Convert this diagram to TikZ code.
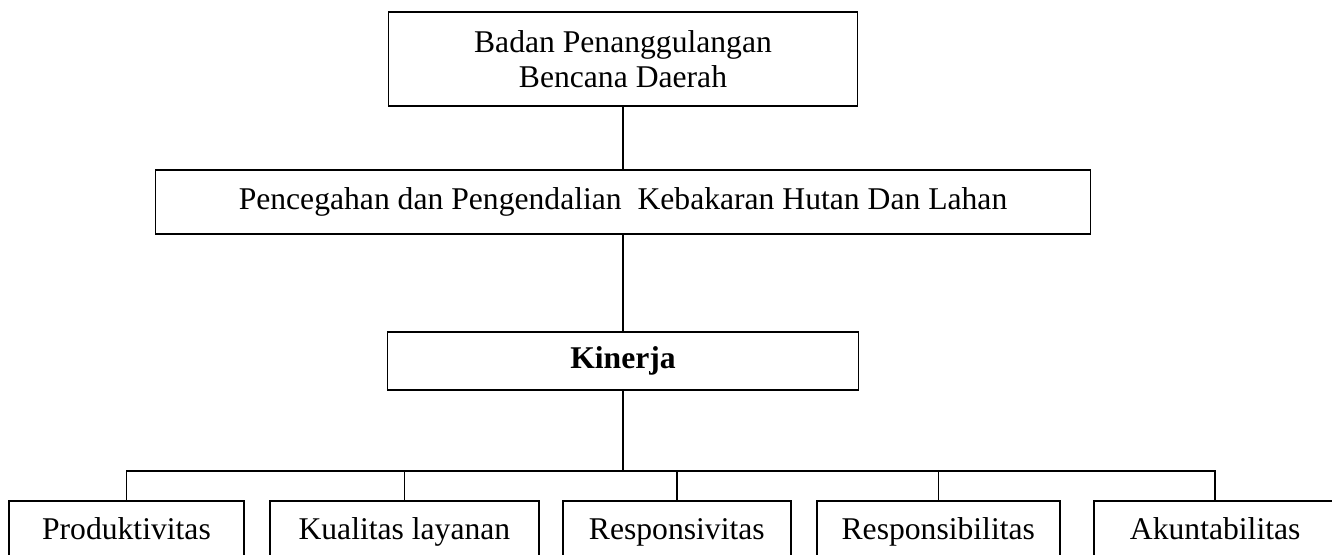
\documentclass[tikz,border=0pt]{standalone}
\usepackage{fontspec}
\setmainfont{Liberation Serif}
\usetikzlibrary{positioning}

\begin{document}
\begin{tikzpicture}[
		every node/.style={font=\fontsize{18}{20}\selectfont},
		box/.style={rectangle, draw=black, line width=1.1pt, inner sep=0pt, align=center},
		leaf/.style={box, minimum height=1.4cm, text height=0.7em, text depth=0.25em},
		link/.style={line width=0.85pt}
	]

	\useasboundingbox (0,0) rectangle (26.64,-11.08);

	% Nodes
	\node[box, minimum width=9.38cm, minimum height=1.88cm] (bpbd) at (12.46,-1.18) {Badan Penanggulangan\\Bencana Daerah};
	\node[box, minimum width=18.7cm, minimum height=1.28cm, below=1.24cm of bpbd] (karhutla) {Pencegahan dan Pengendalian\ \ Kebakaran Hutan Dan Lahan};
	\node[box, minimum width=9.42cm, minimum height=1.16cm, below=1.92cm of karhutla] (kinerja) {\textbf{Kinerja}};

	\node[leaf, minimum width=4.70cm, anchor=north west] (prod) at (0.16,-10.0) {Produktivitas};
	\node[leaf, minimum width=5.38cm, right=0.48cm of prod] (kual) {Kualitas layanan};
	\node[leaf, minimum width=4.56cm, right=0.44cm of kual] (resv) {Responsivitas};
	\node[leaf, minimum width=4.86cm, right=0.48cm of resv] (resb) {Responsibilitas};
	\node[leaf, minimum width=4.86cm, right=0.64cm of resb] (akun) {Akuntabilitas};

	\coordinate (bus) at (12.46,-9.42);

	% Lines
	\draw[link] (bpbd) -- (karhutla);
	\draw[link] (karhutla) -- (kinerja);
	\draw[link] (kinerja) -- (kinerja |- bus);
	\draw[link] (prod.north) -- (prod |- bus) -- (akun |- bus) -- (akun.north);
	\draw[link] (kual.north) -- (kual |- bus);
	\draw[link] (resv.north) -- (resv |- bus);
	\draw[link] (resb.north) -- (resb |- bus);

	\end{tikzpicture}
\end{document}
